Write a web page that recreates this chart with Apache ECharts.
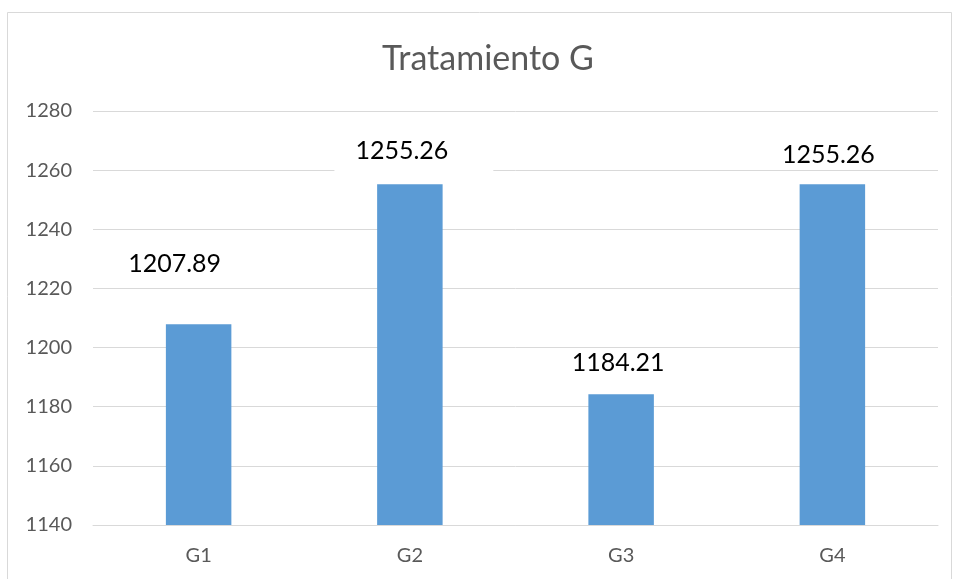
<!DOCTYPE html>
<html>
<head>
<meta charset="utf-8">
<script src="https://cdn.jsdelivr.net/npm/echarts@6/dist/echarts.min.js"></script>
<style>html,body{margin:0;padding:0;background:#fff}#c{width:955px;height:579px}</style>
</head>
<body>
<div id="c"></div>
<script>
const categories = ['G1', 'G2', 'G3', 'G4'];
const values = [1207.89, 1255.26, 1184.21, 1255.26];
const yTicks = [1140, 1160, 1180, 1200, 1220, 1240, 1260, 1280];

const labelGaps = [44, 11, 15, 13];
const labelShiftX = [-24, 4, -3, -4];
const labelBg = [null, '#ffffff', null, null];

const chart = echarts.init(document.getElementById('c'));
chart.setOption({
  animation: false,
  backgroundColor: '#ffffff',
  title: {
    text: 'Tratamiento G',
    left: 377,
    top: 37,
    textStyle: { fontFamily: 'Lato', fontSize: 34, fontWeight: 'normal', color: '#595959' }
  },
  graphic: [{
    type: 'rect', shape: { x: 7.5, y: 12.5, width: 944, height: 580 },
    style: { fill: 'none', stroke: '#d9d9d9', lineWidth: 1 }, silent: true
  }],
  grid: { left: 93, right: 17, top: 111, bottom: 54 },
  xAxis: {
    type: 'category',
    data: categories,
    axisLine: { show: true, lineStyle: { color: '#d9d9d9' } },
    axisTick: { show: false },
    axisLabel: { fontFamily: 'Lato', fontSize: 20, color: '#595959', margin: 21 }
  },
  yAxis: {
    type: 'value',
    min: yTicks[0],
    max: yTicks[yTicks.length - 1],
    interval: 20,
    axisLine: { show: false },
    axisTick: { show: false },
    splitLine: { lineStyle: { color: '#d9d9d9' } },
    axisLabel: { fontFamily: 'Lato', fontSize: 20, color: '#595959', margin: 21, formatter: v => String(v) }
  },
  series: [{
    type: 'bar',
    barWidth: '31%',
    itemStyle: { color: '#5b9bd5' },
    data: values.map((v, i) => ({
      value: v,
      label: {
        show: true, position: 'top', distance: labelGaps[i],
        offset: [labelShiftX[i], 0],
        formatter: p => String(p.value),
        fontFamily: 'Lato', fontSize: 25, color: '#000000',
        backgroundColor: labelBg[i] || 'transparent',
        padding: labelBg[i] ? [4, 45, 10, 21] : [4, 20]
      }
    }))
  }]
});
</script>
</body>
</html>
